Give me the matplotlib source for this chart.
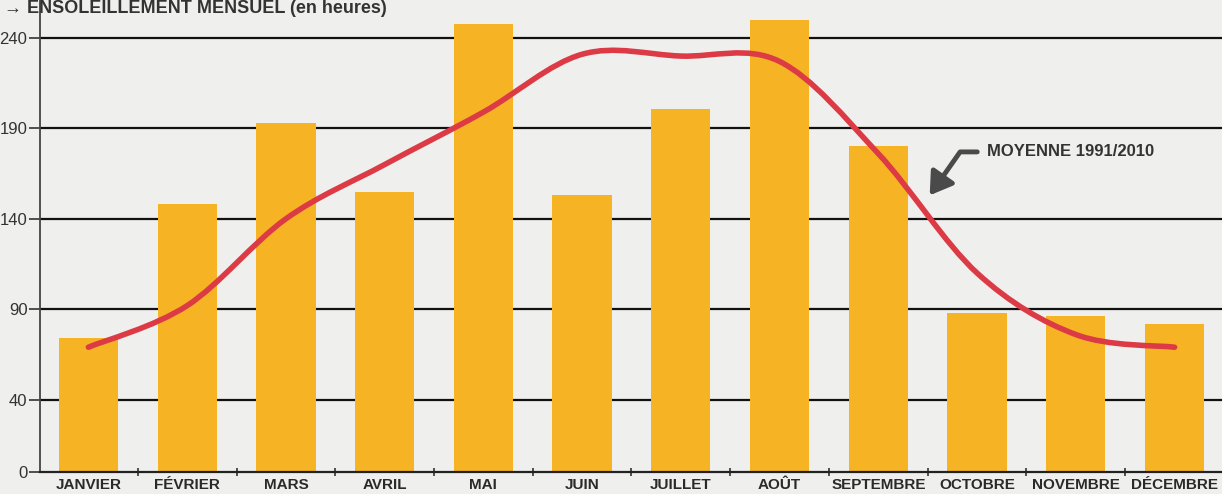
import numpy as np
import matplotlib.pyplot as plt
from matplotlib.path import Path
from matplotlib.patches import PathPatch

# ensoleillement mensuel (en heures)
mois = ['JANVIER', 'FÉVRIER', 'MARS', 'AVRIL', 'MAI', 'JUIN', 'JUILLET',
        'AOÛT', 'SEPTEMBRE', 'OCTOBRE', 'NOVEMBRE', 'DÉCEMBRE']
heures = [74, 148, 193, 155, 248, 153, 201, 250, 180, 88, 86, 82]
moyenne = [69, 92, 140, 170, 199, 231, 230, 227, 176, 110, 76, 69]
yticks = [0, 40, 90, 140, 190, 240]

fonte = ['Liberation Sans Narrow', 'Liberation Sans', 'DejaVu Sans']
plt.rcParams['font.family'] = fonte

fig = plt.figure(figsize=(12.22, 4.94), dpi=100)
fig.patch.set_facecolor('#efefed')
ax = fig.add_axes([40 / 1222, 22 / 494, 1 - 40 / 1222, 472 / 494])
ax.set_facecolor('#efefed')

x = np.arange(len(mois))
ax.bar(x, heures, width=0.6, color='#f6b424', zorder=2)

# lignes horizontales
for v in yticks[1:]:
    ax.axhline(v, color='#111111', lw=1.6, zorder=1)

# courbe moyenne lissée (Catmull-Rom -> Bézier)
pts = np.column_stack([x, moyenne]).astype(float)
verts = [pts[0]]
codes = [Path.MOVETO]
for i in range(len(pts) - 1):
    p0 = pts[max(i - 1, 0)]
    p1 = pts[i]
    p2 = pts[i + 1]
    p3 = pts[min(i + 2, len(pts) - 1)]
    c1 = p1 + (p2 - p0) / 6
    c2 = p2 - (p3 - p1) / 6
    verts += [c1, c2, p2]
    codes += [Path.CURVE4] * 3
courbe = PathPatch(Path(verts, codes), fill=False, edgecolor='#dc3a45',
                   lw=4, capstyle='round', zorder=3)
ax.add_patch(courbe)

ax.set_xlim(-0.49, 11.48)
ax.set_ylim(0, 261)
ax.set_yticks(yticks)
ax.set_yticklabels([str(v) for v in yticks], fontsize=12, color='#333333')
ax.set_xticks(x)
ax.set_xticklabels(mois, fontsize=11, fontweight='bold', color='#2a2a2a')
ax.set_xticks(x[:-1] + 0.5, minor=True)
ax.tick_params(axis='y', length=8, width=1.2, color='#333333', pad=1)
ax.tick_params(axis='x', which='major', length=0, pad=4)
ax.tick_params(axis='x', which='minor', length=6, width=1.2, direction='inout', color='#333333')

for s in ['top', 'right']:
    ax.spines[s].set_visible(False)
ax.spines['left'].set_color('#444444')
ax.spines['left'].set_linewidth(1.3)
ax.spines['bottom'].set_color('#222222')
ax.spines['bottom'].set_linewidth(1.6)

ax.annotate('MOYENNE 1991/2010', xy=(8.52, 153), xytext=(9.1, 177),
            fontsize=12, fontweight='bold', color='#333333', ha='left', va='center',
            arrowprops=dict(arrowstyle='-|>,head_width=0.7,head_length=1.1',
                            connectionstyle='angle,angleA=0,angleB=55,rad=0',
                            color='#4a4a4a', lw=3.5, relpos=(0, 0.5), shrinkA=5, shrinkB=0),
            zorder=4)

fig.text(0.003, 0.999, '→ ENSOLEILLEMENT MENSUEL (en heures)', fontsize=13,
         fontweight='bold', color='#333333', ha='left', va='top')

fig.savefig('out.png', dpi=100, facecolor=fig.get_facecolor())
